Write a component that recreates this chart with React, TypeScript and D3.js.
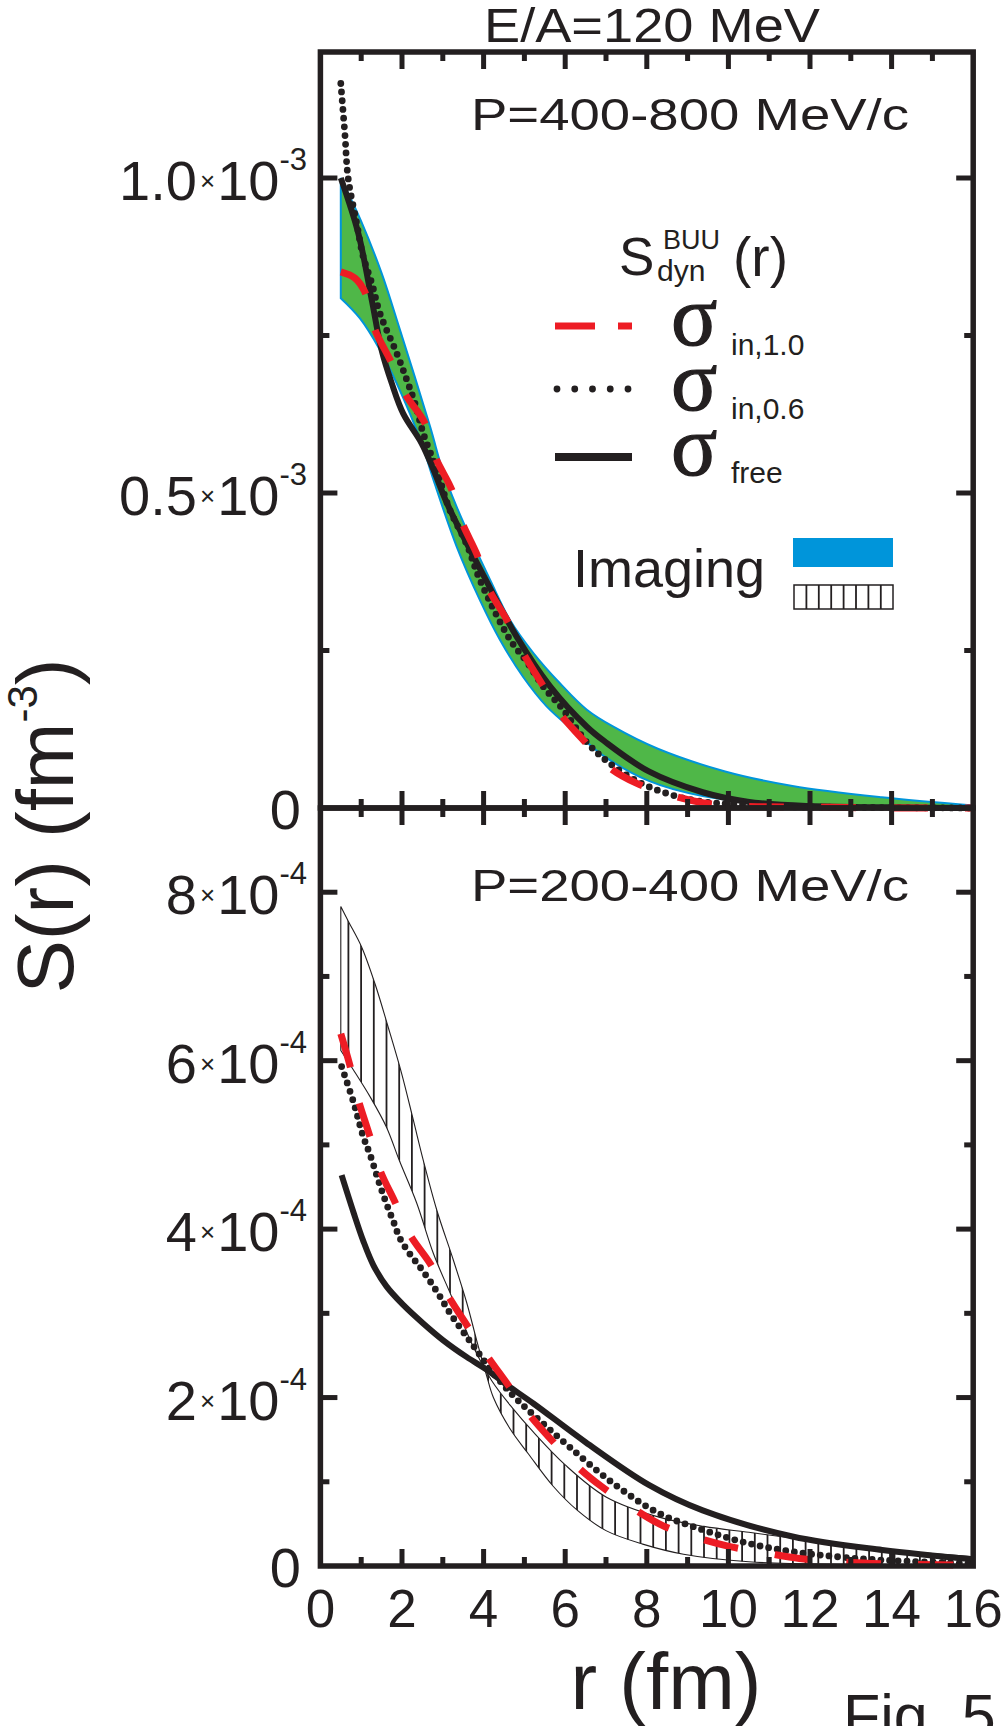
import React from 'react';
import * as d3 from 'd3';

// ---- values ----
// top panel, P=400-800 MeV/c, S(r) in 1e-3 fm^-3
const imgTopHiR = [0.5, 1.0, 1.5, 1.95, 2.69, 3.0, 3.34, 3.59, 4.16, 4.65, 5.22, 5.87, 6.53, 7.18, 8.27, 9.92, 11.57, 13.76, 16];
const imgTopHiV = [1.0, 0.931, 0.849, 0.759, 0.605, 0.535, 0.478, 0.441, 0.362, 0.298, 0.246, 0.198, 0.156, 0.129, 0.094, 0.058, 0.035, 0.017, 0.004];
const imgTopLoR = [0.5, 0.97, 1.46, 1.87, 2.48, 2.77, 3.34, 3.91, 4.4, 4.97, 5.55, 6.28, 6.96, 8.05, 9.37, 11.57, 16];
const imgTopLoV = [0.809, 0.777, 0.727, 0.674, 0.579, 0.521, 0.415, 0.33, 0.267, 0.208, 0.161, 0.119, 0.082, 0.043, 0.019, 0.005, 0.001];

const freeTopR = [0.5, 0.93, 1.26, 1.5, 1.75, 2.03, 2.48, 2.77, 3.1, 3.5, 3.99, 4.81, 5.63, 6.53, 6.96, 8.05, 9.37, 10.47, 12, 14, 16];
const freeTopV = [1.0, 0.912, 0.806, 0.727, 0.674, 0.626, 0.579, 0.537, 0.484, 0.431, 0.37, 0.272, 0.193, 0.129, 0.106, 0.058, 0.025, 0.01, 0.003, 0.001, 0.0];

const in06TopR = [0.5, 0.6, 0.68, 0.89, 1.05, 1.26, 1.46, 1.87, 2.12, 2.32, 2.52, 2.85, 3.16, 3.59, 3.91, 4.65, 5.06, 5.46, 5.95, 6.52, 7.07, 7.84, 8.6, 9.37, 10.25, 11.5, 13, 16];
const in06TopV = [1.15, 1.07, 1.0, 0.928, 0.875, 0.833, 0.785, 0.722, 0.679, 0.642, 0.595, 0.537, 0.475, 0.418, 0.362, 0.267, 0.232, 0.193, 0.156, 0.105, 0.072, 0.04, 0.021, 0.01, 0.006, 0.002, 0.001, 0.0];

const in10TopR = [0.5, 0.85, 1.09, 1.34, 1.71, 2.07, 2.56, 2.81, 3.22, 3.48, 3.84, 4.14, 4.55, 4.97, 5.42, 5.87, 6.4, 7.07, 7.73, 8.6, 9.4, 10.3, 11, 12.5, 14, 16];
const in10TopV = [0.851, 0.841, 0.819, 0.759, 0.711, 0.658, 0.611, 0.558, 0.505, 0.452, 0.402, 0.346, 0.301, 0.246, 0.198, 0.15, 0.111, 0.065, 0.04, 0.02, 0.008, 0.003, 0.002, 0.001, 0.0, 0.0];

// bottom panel, P=200-400 MeV/c, S(r) in 1e-4 fm^-3
const imgBotAR = [0.5, 0.69, 1.01, 1.34, 1.66, 1.99, 2.28, 2.52, 2.85, 3.26, 3.59, 3.83, 4.08, 4.24, 4.66, 5.1, 5.7, 6.3, 7.0, 7.9, 8.9, 10.5, 13, 16];
const imgBotAV = [7.83, 7.65, 7.35, 6.91, 6.4, 5.85, 5.29, 4.82, 4.23, 3.63, 3.12, 2.68, 2.25, 2.0, 1.62, 1.33, 0.95, 0.66, 0.42, 0.26, 0.14, 0.05, 0.02, 0.01];
const imgBotBR = [0.5, 0.81, 1.22, 1.62, 1.93, 2.36, 2.77, 3.18, 3.5, 3.75, 4.2, 4.7, 5.2, 6.0, 7.0, 8.3, 9.4, 10.5, 11.6, 13.8, 16];
const imgBotBV = [6.12, 5.89, 5.57, 5.21, 4.82, 4.31, 3.71, 3.24, 2.88, 2.6, 2.2, 1.88, 1.6, 1.2, 0.82, 0.58, 0.47, 0.4, 0.33, 0.2, 0.11];

const freeBotR = [0.52, 0.81, 1.05, 1.3, 1.62, 2.03, 2.52, 3.01, 3.59, 4.08, 4.57, 5.22, 6.5, 8.06, 9.37, 11.57, 13.77, 16];
const freeBotV = [4.64, 4.2, 3.86, 3.57, 3.32, 3.1, 2.88, 2.68, 2.48, 2.33, 2.15, 1.93, 1.47, 0.96, 0.66, 0.35, 0.19, 0.08];

const in06BotR = [0.52, 0.81, 1.05, 1.22, 1.46, 1.62, 1.79, 1.95, 2.2, 2.44, 2.69, 2.93, 3.18, 3.5, 3.83, 4.24, 4.73, 5.21, 6.09, 7.18, 8.28, 9.37, 10.48, 11.57, 12.67, 13.77, 16];
const in06BotV = [5.93, 5.51, 5.1, 4.88, 4.52, 4.3, 4.09, 3.89, 3.7, 3.55, 3.38, 3.2, 3.0, 2.78, 2.56, 2.29, 2.02, 1.8, 1.42, 0.98, 0.63, 0.43, 0.27, 0.17, 0.11, 0.07, 0.03];

const in10BotR = [0.5, 0.72, 0.92, 1.2, 1.46, 1.83, 2.2, 2.69, 3.14, 3.59, 4.08, 4.57, 5.1, 5.6, 6.3, 6.9, 7.68, 8.39, 9.27, 10.04, 10.97, 11.74, 12.67, 13.5, 14.5, 16];
const in10BotV = [6.32, 5.95, 5.55, 5.12, 4.7, 4.32, 3.93, 3.59, 3.2, 2.86, 2.5, 2.17, 1.81, 1.53, 1.18, 0.94, 0.68, 0.48, 0.33, 0.23, 0.15, 0.09, 0.05, 0.03, 0.02, 0.01];

// axes
const xTickVals = [0, 2, 4, 6, 8, 10, 12, 14, 16];
const topYTicks = [0, 0.5, 1.0];
const topYLabels = ['0', '0.5', '1.0'];
const topYMinor = [0.25, 0.75];
const botYTicks = [0, 2, 4, 6, 8];
const botYLabels = ['0', '2', '4', '6', '8'];
const botYMinor = [1, 3, 5, 7];
const legendSubs = ['in,1.0', 'in,0.6', 'free'];

const INK = '#231f20';
const RED = '#ed1c24';
const GREEN = '#4fb748';
const BLUE = '#0095da';
const FONT = '"Liberation Sans", Arial, sans-serif';

const X0 = 320.4, X1 = 973.2;
const Y_TOP = 52, Y_MID = 808, Y_BOT = 1566;
const MAJ = 17, MIN = 9;

const zip = (rs: number[], vs: number[]) => rs.map((r, i) => [r, vs[i]] as [number, number]);

function YLabel({ y, m, e }: { y: number; m: string; e: string }) {
  if (m === '0')
    return <text x={301} y={y + 21} textAnchor="end" fontSize={56}>0</text>;
  return (
    <text x={307} y={y + 22} textAnchor="end" fontSize={56}>
      <tspan>{m}</tspan>
      <tspan fontSize={26} dx={3} dy={-10}>×</tspan>
      <tspan dx={2} dy={10}>10</tspan>
      <tspan fontSize={31} dy={-30}>{e}</tspan>
    </text>
  );
}

export default function App() {
  const x = d3.scaleLinear().domain([0, 16]).range([X0, X1]);
  const yT = d3.scaleLinear().domain([0, 1.2]).range([Y_MID, Y_TOP]);
  const yB = d3.scaleLinear().domain([0, 9]).range([Y_BOT, Y_MID]);

  const curve = d3.curveCatmullRom.alpha(0.5);
  const lineT = d3.line<[number, number]>().x(d => x(d[0])).y(d => yT(d[1])).curve(curve);
  const lineB = d3.line<[number, number]>().x(d => x(d[0])).y(d => yB(d[1])).curve(curve);

  const band = (line: any, r1: number[], v1: number[], r2: number[], v2: number[]) =>
    line(zip(r1, v1)) + 'L' + line(zip(r2, v2).reverse()).slice(1) + 'Z';

  const greenBand = band(lineT, imgTopHiR, imgTopHiV, imgTopLoR, imgTopLoV);
  const hatchBand = band(lineB, imgBotAR, imgBotAV, imgBotBR, imgBotBV);
  const hatchXs = d3.range(x(0.5) + 7.6, X1, 12.7);

  const xMinorTop = d3.range(1, 16);

  return (
    <div style={{ position: 'absolute', left: 0, top: 0 }}>
      <svg width={1003} height={1726} style={{ display: 'block', background: '#fff' }}
        fontFamily={FONT} fill={INK}>
        <defs>
          <clipPath id="hatchClip">
            <path d={hatchBand} />
          </clipPath>
        </defs>

        {/* imaging bands */}
        <path d={greenBand} fill={GREEN} stroke={BLUE} strokeWidth={2} />
        <g clipPath="url(#hatchClip)" stroke={INK} strokeWidth={1.8}>
          {hatchXs.map((hx, i) => (
            <line key={i} x1={hx} x2={hx} y1={Y_MID} y2={Y_BOT} />
          ))}
        </g>
        <path d={hatchBand} fill="none" stroke={INK} strokeWidth={1.1} />

        {/* BUU curves, top */}
        <path d={lineT(zip(freeTopR, freeTopV))!} fill="none" stroke={INK} strokeWidth={6} />
        <path d={lineT(zip(in06TopR, in06TopV))!} fill="none" stroke={INK} strokeWidth={6.8}
          strokeDasharray="0 8.7" strokeLinecap="round" />
        <path d={lineT(zip(in10TopR, in10TopV))!} fill="none" stroke={RED} strokeWidth={7}
          strokeDasharray="35 37" />

        {/* BUU curves, bottom */}
        <path d={lineB(zip(freeBotR, freeBotV))!} fill="none" stroke={INK} strokeWidth={6} />
        <path d={lineB(zip(in06BotR, in06BotV))!} fill="none" stroke={INK} strokeWidth={6.8}
          strokeDasharray="0 8.7" strokeLinecap="round" />
        <path d={lineB(zip(in10BotR, in10BotV))!} fill="none" stroke={RED} strokeWidth={7}
          strokeDasharray="35 37" />

        {/* frames */}
        <g fill="none" stroke={INK} strokeWidth={5.5}>
          <rect x={X0} y={Y_TOP} width={X1 - X0} height={Y_MID - Y_TOP} />
          <rect x={X0} y={Y_MID} width={X1 - X0} height={Y_BOT - Y_MID} />
        </g>

        {/* ticks */}
        <g stroke={INK} strokeWidth={5}>
          {xMinorTop.map(r => {
            const len = r % 2 === 0 ? MAJ : MIN;
            const px = x(r);
            return (
              <g key={r}>
                <line x1={px} x2={px} y1={Y_TOP} y2={Y_TOP + len} />
                <line x1={px} x2={px} y1={Y_MID - len} y2={Y_MID + len} />
                <line x1={px} x2={px} y1={Y_BOT - len} y2={Y_BOT} />
              </g>
            );
          })}
          {[...topYTicks.slice(1).map(v => [v, MAJ]), ...topYMinor.map(v => [v, MIN])].map(([v, len]) => (
            <g key={'t' + v}>
              <line x1={X0} x2={X0 + len} y1={yT(v)} y2={yT(v)} />
              <line x1={X1 - len} x2={X1} y1={yT(v)} y2={yT(v)} />
            </g>
          ))}
          {[...botYTicks.slice(1).map(v => [v, MAJ]), ...botYMinor.map(v => [v, MIN])].map(([v, len]) => (
            <g key={'b' + v}>
              <line x1={X0} x2={X0 + len} y1={yB(v)} y2={yB(v)} />
              <line x1={X1 - len} x2={X1} y1={yB(v)} y2={yB(v)} />
            </g>
          ))}
        </g>

        {/* tick labels */}
        {topYTicks.map((v, i) => <YLabel key={'yl' + v} y={yT(v)} m={topYLabels[i]} e="-3" />)}
        {botYTicks.map((v, i) => <YLabel key={'yb' + v} y={yB(v)} m={botYLabels[i]} e="-4" />)}
        {xTickVals.map(r => (
          <text key={'x' + r} x={x(r)} y={1627} textAnchor="middle" fontSize={53}>{r}</text>
        ))}

        {/* axis titles */}
        <text x={666} y={1709} textAnchor="middle" fontSize={80}>r (fm)</text>
        <text transform="translate(73,826) rotate(-90)" textAnchor="middle" fontSize={80}>
          S(r) (fm<tspan fontSize={42} dy={-36}>-3</tspan><tspan dy={36}>)</tspan>
        </text>
        <text x={484} y={42} fontSize={49} textLength={336} lengthAdjust="spacingAndGlyphs">E/A=120 MeV</text>
        <text x={471} y={130} fontSize={44} textLength={438} lengthAdjust="spacingAndGlyphs">P=400-800 MeV/c</text>
        <text x={471} y={901} fontSize={44} textLength={438} lengthAdjust="spacingAndGlyphs">P=200-400 MeV/c</text>
        <text x={843} y={1737} fontSize={61}>Fig. 5</text>

        {/* legend */}
        <text x={619} y={275} fontSize={53}>S</text>
        <text x={663} y={249} fontSize={27}>BUU</text>
        <text x={657} y={281} fontSize={30}>dyn</text>
        <text x={733} y={276} fontSize={55}>(r)</text>

        <line x1={555} x2={595} y1={326} y2={326} stroke={RED} strokeWidth={7} />
        <line x1={618} x2={632} y1={326} y2={326} stroke={RED} strokeWidth={7} />
        <line x1={557} x2={630} y1={389} y2={389} stroke={INK} strokeWidth={6.8}
          strokeDasharray="0 17.75" strokeLinecap="round" />
        <line x1={555} x2={632} y1={457} y2={457} stroke={INK} strokeWidth={8} />
        {legendSubs.map((s, i) => (
          <g key={s}>
            <text x={671} y={345 + i * 65} fontSize={86} stroke={INK} strokeWidth={1.2}
              fontFamily='"Liberation Serif", serif'>σ</text>
            <text x={731} y={355 + i * 64} fontSize={30}>{s}</text>
          </g>
        ))}

        <text x={573} y={587} fontSize={54}>Imaging</text>
        <rect x={793} y={538} width={100} height={29} fill={BLUE} />
        <rect x={794} y={585} width={99} height={24} fill="#fff" stroke={INK} strokeWidth={1.5} />
        {d3.range(1, 8).map(k => (
          <line key={k} x1={794 + k * 12.4} x2={794 + k * 12.4} y1={585} y2={609} stroke={INK} strokeWidth={1.8} />
        ))}
      </svg>
    </div>
  );
}
